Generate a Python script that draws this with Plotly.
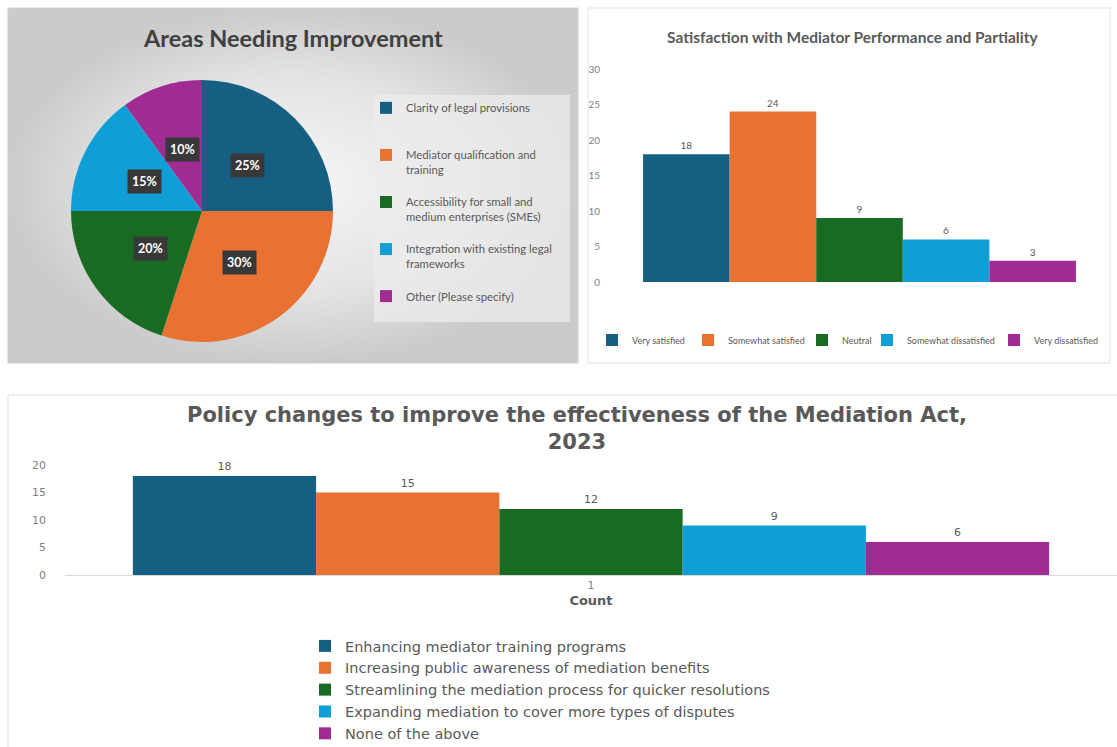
import math
import textwrap
import plotly.graph_objects as go

# ---------------- data ----------------
palette = ["#156082", "#E97132", "#196B24", "#0F9ED5", "#A02B93"]

areas = [
    "Clarity of legal provisions",
    "Mediator qualification and training",
    "Accessibility for small and medium enterprises (SMEs)",
    "Integration with existing legal frameworks",
    "Other (Please specify)",
]
area_share = [25, 30, 20, 15, 10]

satisfaction_levels = [
    "Very satisfied",
    "Somewhat satisfied",
    "Neutral",
    "Somewhat dissatisfied",
    "Very dissatisfied",
]
satisfaction_counts = [18, 24, 9, 6, 3]

policy_changes = [
    "Enhancing mediator training programs",
    "Increasing public awareness of mediation benefits",
    "Streamlining the mediation process for quicker resolutions",
    "Expanding mediation to cover more types of disputes",
    "None of the above",
]
policy_counts = [18, 15, 12, 9, 6]
policy_category = ["1"]

# ---------------- page geometry (pixels) ----------------
W, H = 1117, 747


def fx(x):
    return x / W


def fy(y):
    return 1 - y / H


PIE_CX, PIE_CY, PIE_R = 202, 211, 131

fig = go.Figure()

# soft radial backdrop of the first panel
fig.add_trace(go.Scatter(
    x=[0, 1, 1, 0, 0], y=[0, 0, 1, 1, 0], fill="toself", mode="none",
    fillgradient=dict(type="radial",
                      colorscale=[[0, "#f6f6f6"], [0.6, "#e4e4e4"], [1, "#cbcbcb"]]),
    hoverinfo="skip", showlegend=False, xaxis="x3", yaxis="y3",
))


def legend_text(name, lines=3, width=31):
    parts = textwrap.wrap(name, width=width)
    parts += [" "] * (lines - len(parts))
    return "<br>".join(parts)


# ---------------- pie ----------------
fig.add_trace(go.Pie(
    labels=[legend_text(a) for a in areas],
    values=area_share,
    sort=False, direction="clockwise", rotation=0,
    marker=dict(colors=palette, line=dict(width=0)),
    textinfo="none", hoverinfo="label+percent",
    domain=dict(x=[fx(PIE_CX - PIE_R), fx(PIE_CX + PIE_R)],
                y=[fy(PIE_CY + PIE_R), fy(PIE_CY - PIE_R)]),
    legend="legend",
))

# percentage tags on the slices, placed at the middle of each wedge
total = sum(area_share)
cum = 0
for v in area_share:
    mid = (cum + v / 2) / total * 2 * math.pi
    cum += v
    lx = PIE_CX + 0.49 * PIE_R * math.sin(mid)
    ly = PIE_CY - 0.49 * PIE_R * math.cos(mid)
    fig.add_annotation(
        x=fx(lx), y=fy(ly), xref="paper", yref="paper", showarrow=False,
        xanchor="center", yanchor="middle",
        text=f"<b>{round(v / total * 100)}%</b>",
        font=dict(family="Lato", size=12.5, color="white"),
        bgcolor="#383838", borderpad=4,
    )

# ---------------- satisfaction bars ----------------
for name, val, col in zip(satisfaction_levels, satisfaction_counts, palette):
    fig.add_trace(go.Bar(
        x=["Count"], y=[val], name=name, marker=dict(color=col, line=dict(width=0)),
        text=[val], textposition="outside", cliponaxis=False,
        textfont=dict(family="Lato", size=10, color="#595959"),
        xaxis="x", yaxis="y", legend="legend2",
        legendwidth=round(4.5 * len(name) - 12),
    ))

# ---------------- policy bars ----------------
for name, val, col in zip(policy_changes, policy_counts, palette):
    fig.add_trace(go.Bar(
        x=policy_category, y=[val], name=name, marker=dict(color=col, line=dict(width=0)),
        text=[val], textposition="outside", cliponaxis=False,
        textfont=dict(family="DejaVu Sans", size=11, color="#595959"),
        xaxis="x2", yaxis="y2", legend="legend3",
    ))

fig.update_layout(
    width=W, height=H, margin=dict(l=0, r=0, t=0, b=0, autoexpand=False),
    paper_bgcolor="white", plot_bgcolor="rgba(0,0,0,0)",
    barmode="group", bargap=0.129, bargroupgap=0,
    hovermode="closest",
    xaxis=dict(domain=[fx(611), fx(1108)], type="category", showticklabels=False,
               showline=False, showgrid=False, zeroline=False, fixedrange=True,
               anchor="y"),
    yaxis=dict(domain=[fy(282), fy(69)], range=[0, 30], dtick=5, showgrid=False,
               zeroline=False, showline=False, ticklabelstandoff=10,
               tickfont=dict(family="Lato", size=10, color="#7f7f7f"), fixedrange=True,
               anchor="x"),
    xaxis2=dict(domain=[fx(65), 1], type="category", showline=True, linecolor="#d9d9d9",
                linewidth=1, showgrid=False, zeroline=False, ticks="",
                tickfont=dict(family="DejaVu Sans", size=11, color="#7f7f7f"),
                title=dict(text="<b>Count</b>", standoff=4,
                           font=dict(family="DejaVu Sans", size=13, color="#595959")),
                fixedrange=True, anchor="y2"),
    yaxis2=dict(domain=[fy(575), fy(465)], range=[0, 20], dtick=5, showgrid=False,
                zeroline=False, showline=False, ticklabelstandoff=18,
                tickfont=dict(family="DejaVu Sans", size=11, color="#7f7f7f"),
                anchor="x2", fixedrange=True),
    xaxis3=dict(domain=[fx(8), fx(578)], range=[0, 1], visible=False, fixedrange=True,
                anchor="y3"),
    yaxis3=dict(domain=[fy(363), fy(8)], range=[0, 1], visible=False, fixedrange=True,
                anchor="x3"),
    legend=dict(x=fx(366), y=fy(94), xanchor="left", yanchor="top",
                orientation="v", valign="top", bgcolor="rgba(0,0,0,0)",
                font=dict(family="Lato", size=11.3, color="#595959"), itemwidth=30),
    legend2=dict(x=fx(592), y=fy(340), xanchor="left", yanchor="middle",
                 orientation="h", bgcolor="rgba(0,0,0,0)",
                 font=dict(family="Lato", size=9, color="#595959"), itemwidth=30),
    legend3=dict(x=fx(305), y=fy(630), xanchor="left", yanchor="top",
                 orientation="v", bgcolor="rgba(0,0,0,0)",
                 font=dict(family="DejaVu Sans", size=14.5, color="#595959"), itemwidth=30),
)

# panel frames and the pie legend backing
fig.add_shape(type="rect", xref="paper", yref="paper", layer="above",
              x0=fx(8), x1=fx(578), y0=fy(363), y1=fy(8),
              line=dict(color="#d0d0d0", width=1), fillcolor="rgba(0,0,0,0)")
fig.add_shape(type="rect", xref="paper", yref="paper", layer="above",
              x0=fx(374), x1=fx(570), y0=fy(322), y1=fy(95),
              line=dict(width=0), fillcolor="rgba(236,236,236,0.75)")
fig.add_shape(type="rect", xref="paper", yref="paper", layer="below",
              x0=fx(588), x1=fx(1110), y0=fy(363), y1=fy(8),
              line=dict(color="#e3e3e3", width=1), fillcolor="white")
fig.add_shape(type="line", xref="paper", yref="paper", layer="above",
              x0=fx(8), x1=1, y0=fy(395), y1=fy(395), line=dict(color="#e0e0e0", width=1))
fig.add_shape(type="line", xref="paper", yref="paper", layer="above",
              x0=fx(8), x1=fx(8), y0=fy(395), y1=0, line=dict(color="#e0e0e0", width=1))

# titles
fig.add_annotation(x=fx(293), y=fy(38), xref="paper", yref="paper", showarrow=False,
                   xanchor="center", yanchor="middle",
                   text="<b>Areas Needing Improvement</b>",
                   font=dict(family="Lato", size=23.5, color="#404040"))
fig.add_annotation(x=fx(852), y=fy(37), xref="paper", yref="paper", showarrow=False,
                   xanchor="center", yanchor="middle",
                   text="<b>Satisfaction with Mediator Performance and Partiality</b>",
                   font=dict(family="Lato", size=15.5, color="#595959"))
fig.add_annotation(x=fx(577), y=fy(428), xref="paper", yref="paper", showarrow=False,
                   xanchor="center", yanchor="middle",
                   text="<b>Policy changes to improve the effectiveness of the Mediation Act,"
                        "<br>2023</b>",
                   font=dict(family="DejaVu Sans", size=21, color="#595959"))

fig.write_html("out.html")
